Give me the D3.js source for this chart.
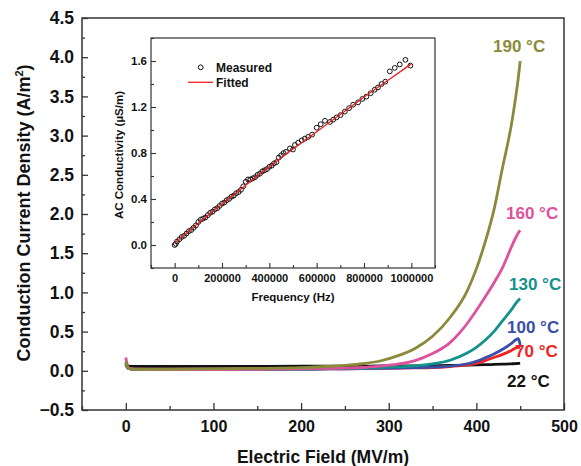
<!DOCTYPE html>
<html>
<head>
<meta charset="utf-8">
<script src="https://cdn.jsdelivr.net/npm/d3@7"></script>
<style>
  body { margin: 0; background: #fff; }
  svg { font-family: "Liberation Sans", Arial, sans-serif; font-weight: bold; }
</style>
</head>
<body>
<svg id="chart" width="581" height="466"></svg>
<script>
// Electric field grid (MV/m) shared by all temperature curves
const field = [0, 3, 10, 50, 100, 150, 200, 230, 250, 270, 290, 310, 330, 350, 370, 390, 400, 410, 420, 430, 440, 445, 448, 450];

// Conduction current density (A/m2)
const j22  = [0.10, 0.06, 0.055, 0.055, 0.056, 0.057, 0.058, 0.059, 0.06, 0.06, 0.061, 0.062, 0.063, 0.065, 0.068, 0.072, 0.075, 0.078, 0.081, 0.085, 0.089, 0.092, 0.094, 0.095];
const j70  = [0.08, 0.03, 0.02, 0.02, 0.02, 0.02, 0.022, 0.024, 0.026, 0.028, 0.031, 0.034, 0.038, 0.042, 0.055, 0.075, 0.095, 0.13, 0.17, 0.21, 0.26, 0.29, 0.30, 0.30];
const j100 = [0.09, 0.03, 0.02, 0.02, 0.02, 0.02, 0.022, 0.024, 0.026, 0.029, 0.032, 0.036, 0.04, 0.047, 0.06, 0.09, 0.12, 0.165, 0.215, 0.275, 0.35, 0.395, 0.41, 0.33];
const j130 = [0.10, 0.03, 0.015, 0.015, 0.015, 0.018, 0.022, 0.027, 0.03, 0.036, 0.042, 0.05, 0.062, 0.088, 0.135, 0.23, 0.30, 0.39, 0.50, 0.64, 0.78, 0.86, 0.90, 0.92];
const j160 = [0.17, 0.04, 0.02, 0.015, 0.015, 0.02, 0.025, 0.03, 0.035, 0.042, 0.06, 0.085, 0.13, 0.22, 0.36, 0.61, 0.77, 0.94, 1.12, 1.32, 1.58, 1.70, 1.76, 1.79];
const j190 = [0.12, 0.03, 0.02, 0.02, 0.025, 0.03, 0.04, 0.055, 0.07, 0.09, 0.125, 0.19, 0.285, 0.44, 0.68, 1.03, 1.30, 1.64, 2.05, 2.60, 3.14, 3.50, 3.75, 3.95];

const seriesNames = ['22 °C', '70 °C', '100 °C', '130 °C', '160 °C', '190 °C'];
const seriesValues = [j22, j70, j100, j130, j160, j190];
const seriesColors = ['#111111', '#ee2424', '#3a4ea8', '#13918a', '#de519d', '#8a8a3a'];

// Inset: AC conductivity (uS/m) against frequency (Hz)
const freq = [0, 5000, 10000, 20000, 30000, 40000, 50000, 60000, 70000, 80000, 90000, 100000, 110000, 120000, 130000, 140000, 150000, 160000, 170000, 180000, 190000, 200000, 210000, 220000, 230000, 240000, 250000, 260000, 270000, 280000, 290000, 300000, 310000, 320000, 330000, 340000, 350000, 360000, 370000, 380000, 390000, 400000, 410000, 420000, 430000, 440000, 450000, 460000, 470000, 487000, 500000, 508000, 522000, 537000, 550000, 564000, 581000, 600000, 617000, 635000, 656000, 670000, 684000, 701000, 719000, 737000, 754000, 775000, 793000, 810000, 828000, 845000, 859000, 874000, 890000, 909000, 930000, 951000, 975000, 996000];
const acMeasured = [0.00, 0.01, 0.03, 0.05, 0.07, 0.08, 0.10, 0.12, 0.13, 0.15, 0.17, 0.20, 0.22, 0.23, 0.24, 0.26, 0.28, 0.29, 0.31, 0.32, 0.34, 0.36, 0.37, 0.39, 0.40, 0.42, 0.43, 0.45, 0.46, 0.48, 0.51, 0.55, 0.57, 0.57, 0.58, 0.59, 0.61, 0.62, 0.64, 0.65, 0.66, 0.68, 0.69, 0.71, 0.72, 0.76, 0.78, 0.80, 0.81, 0.84, 0.83, 0.87, 0.89, 0.91, 0.925, 0.94, 0.96, 1.02, 1.05, 1.08, 1.07, 1.09, 1.11, 1.13, 1.16, 1.19, 1.22, 1.24, 1.27, 1.29, 1.32, 1.35, 1.37, 1.40, 1.42, 1.51, 1.54, 1.57, 1.61, 1.56];
const fitFreq = [0, 100000, 200000, 300000, 400000, 500000, 600000, 700000, 800000, 900000, 1000000];
const acFitted = [0.02, 0.19, 0.355, 0.52, 0.68, 0.835, 0.985, 1.135, 1.285, 1.43, 1.575];

const svg = d3.select('#chart');
const frameColor = '#333';

// ---- main plot ----
const x = d3.scaleLinear().domain([-50, 500]).range([82, 564]);
const y = d3.scaleLinear().domain([-0.5, 4.5]).range([410, 18]);

// minor ticks first
svg.append('g')
  .attr('transform', `translate(0,${y(-0.5)})`)
  .call(d3.axisBottom(x).tickValues(d3.range(-50, 500, 100)).tickSize(-4).tickFormat(''))
  .call(g => g.select('.domain').remove());
svg.append('g')
  .attr('transform', `translate(${x(-50)},0)`)
  .call(d3.axisLeft(y).tickValues(d3.range(-0.25, 4.5, 0.5)).tickSize(-3).tickFormat(''))
  .call(g => g.select('.domain').remove());

const xAxis = svg.append('g')
  .attr('transform', `translate(0,${y(-0.5)})`)
  .call(d3.axisBottom(x).tickValues(d3.range(0, 501, 100)).tickSize(-7).tickPadding(11))
  .call(g => g.select('.domain').remove());
xAxis.selectAll('text').attr('font-size', 16).attr('fill', '#111');

const yAxis = svg.append('g')
  .attr('transform', `translate(${x(-50)},0)`)
  .call(d3.axisLeft(y).tickValues(d3.range(-0.5, 4.51, 0.5)).tickSize(-6).tickPadding(8).tickFormat(d3.format('.1f')))
  .call(g => g.select('.domain').remove());
yAxis.selectAll('text').attr('font-size', 17.5).attr('fill', '#111');

svg.selectAll('.tick line').attr('stroke', frameColor).attr('stroke-width', 1.3);

// curves
const line = d3.line()
  .x((d, i) => x(field[i]))
  .y(d => y(d))
  .curve(d3.curveMonotoneX);

seriesValues.forEach((vals, k) => {
  svg.append('path')
    .datum(vals)
    .attr('fill', 'none')
    .attr('stroke', seriesColors[k])
    .attr('stroke-width', 2.8)
    .attr('stroke-linejoin', 'round')
    .attr('d', line);
});

// frame
svg.append('rect')
  .attr('x', x(-50)).attr('y', y(4.5))
  .attr('width', x(500) - x(-50)).attr('height', y(-0.5) - y(4.5))
  .attr('fill', 'none').attr('stroke', frameColor).attr('stroke-width', 1.5);

// curve labels
const labelPos = [[507, 387], [515, 357], [507, 333], [509, 290], [506, 219], [493, 52]];
seriesNames.forEach((name, k) => {
  svg.append('text')
    .attr('x', labelPos[k][0]).attr('y', labelPos[k][1])
    .attr('font-size', 17)
    .attr('fill', seriesColors[k])
    .text(name);
});

// axis titles
svg.append('text')
  .attr('x', 323).attr('y', 463)
  .attr('text-anchor', 'middle').attr('font-size', 17.5).attr('fill', '#111')
  .text('Electric Field (MV/m)');

const yTitle = svg.append('text')
  .attr('transform', 'translate(30,213) rotate(-90)')
  .attr('text-anchor', 'middle').attr('font-size', 18).attr('fill', '#111');
yTitle.append('tspan').text('Conduction Current Density (A/m');
yTitle.append('tspan').attr('dy', -7).attr('font-size', 11).text('2');
yTitle.append('tspan').attr('dy', 7).text(')');

// ---- inset ----
const ix = d3.scaleLinear().domain([-100000, 1100000]).range([151, 435]);
const iy = d3.scaleLinear().domain([-0.2, 1.8]).range([268, 38]);

const inset = svg.append('g');
inset.append('rect')
  .attr('x', ix(-100000)).attr('y', iy(1.8))
  .attr('width', ix(1100000) - ix(-100000)).attr('height', iy(-0.2) - iy(1.8))
  .attr('fill', '#fff');

inset.append('g')
  .attr('transform', `translate(0,${iy(-0.2)})`)
  .call(d3.axisBottom(ix).tickValues(d3.range(-100000, 1100001, 200000)).tickSize(-3).tickFormat(''))
  .call(g => g.select('.domain').remove());
inset.append('g')
  .attr('transform', `translate(${ix(-100000)},0)`)
  .call(d3.axisLeft(iy).tickValues(d3.range(-0.2, 1.81, 0.4)).tickSize(-3).tickFormat(''))
  .call(g => g.select('.domain').remove());

const ixAxis = inset.append('g')
  .attr('transform', `translate(0,${iy(-0.2)})`)
  .call(d3.axisBottom(ix).tickValues(d3.range(0, 1000001, 200000)).tickSize(-5).tickPadding(6).tickFormat(d3.format('d')))
  .call(g => g.select('.domain').remove());
ixAxis.selectAll('text').attr('font-size', 11).attr('fill', '#111');

const iyAxis = inset.append('g')
  .attr('transform', `translate(${ix(-100000)},0)`)
  .call(d3.axisLeft(iy).tickValues([0, 0.4, 0.8, 1.2, 1.6]).tickSize(-5).tickPadding(4).tickFormat(d3.format('.1f')))
  .call(g => g.select('.domain').remove());
iyAxis.selectAll('text').attr('font-size', 11.5).attr('fill', '#111');

inset.selectAll('.tick line').attr('stroke', frameColor).attr('stroke-width', 1.1);

// measured circles
inset.append('g')
  .selectAll('circle')
  .data(acMeasured)
  .join('circle')
    .attr('cx', (d, i) => ix(freq[i]))
    .attr('cy', d => iy(d))
    .attr('r', 2.4)
    .attr('fill', 'none')
    .attr('stroke', '#111')
    .attr('stroke-width', 1);

// fitted line
inset.append('path')
  .datum(acFitted)
  .attr('fill', 'none')
  .attr('stroke', '#ee2020')
  .attr('stroke-width', 1.3)
  .attr('d', d3.line().x((d, i) => ix(fitFreq[i])).y(d => iy(d)).curve(d3.curveMonotoneX));

inset.append('rect')
  .attr('x', ix(-100000)).attr('y', iy(1.8))
  .attr('width', ix(1100000) - ix(-100000)).attr('height', iy(-0.2) - iy(1.8))
  .attr('fill', 'none').attr('stroke', frameColor).attr('stroke-width', 1.2);

// inset legend
inset.append('circle').attr('cx', 200.7).attr('cy', 67.3).attr('r', 2.4)
  .attr('fill', 'none').attr('stroke', '#111').attr('stroke-width', 1);
inset.append('text').attr('x', 216).attr('y', 71.5).attr('font-size', 12).attr('fill', '#111').text('Measured');
inset.append('line').attr('x1', 188).attr('x2', 213).attr('y1', 82.3).attr('y2', 82.3)
  .attr('stroke', '#ee2020').attr('stroke-width', 1.3);
inset.append('text').attr('x', 216).attr('y', 86.5).attr('font-size', 12).attr('fill', '#111').text('Fitted');

// inset titles
inset.append('text')
  .attr('x', 293).attr('y', 300.5)
  .attr('text-anchor', 'middle').attr('font-size', 11.5).attr('fill', '#111')
  .text('Frequency (Hz)');
inset.append('text')
  .attr('transform', 'translate(123,155) rotate(-90)')
  .attr('text-anchor', 'middle').attr('font-size', 11.5).attr('fill', '#111')
  .text('AC Conductivity (µS/m)');
</script>
</body>
</html>
